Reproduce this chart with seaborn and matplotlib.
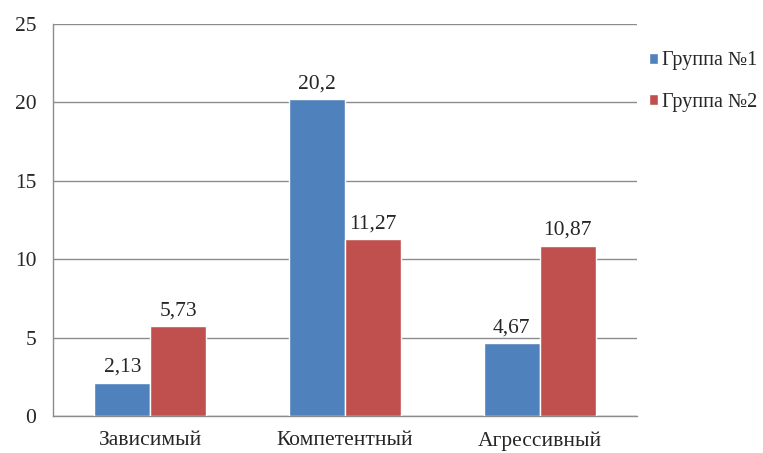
import matplotlib.pyplot as plt
import seaborn as sns
import pandas as pd
from matplotlib.ticker import FixedLocator

categories = ["Зависимый", "Компетентный", "Агрессивный"]
groups = ["Группа №1", "Группа №2"]
group1 = [2.13, 20.2, 4.67]
group2 = [5.73, 11.27, 10.87]
yticks = [0, 5, 10, 15, 20, 25]

df = pd.DataFrame({
    "category": categories * 2,
    "group": [groups[0]] * 3 + [groups[1]] * 3,
    "value": group1 + group2,
})

sns.set_style("white")
plt.rcParams["font.family"] = ["Liberation Serif", "DejaVu Serif"]

fig = plt.figure(figsize=(7.63, 4.53), dpi=100)
ax = fig.add_axes([0.0695, 0.0817, 0.7655, 0.8653])

sns.barplot(
    data=df, x="category", y="value", hue="group",
    palette=["#4F81BD", "#C0504D"], width=0.575,
    saturation=1, ax=ax, zorder=3,
)

for cont in ax.containers:
    labels = [f"{b.get_height():g}".replace(".", ",") for b in cont]
    ax.bar_label(cont, labels=labels, padding=4, fontsize=15.5)

ax.set_ylim(0, 25)
ax.set_xlim(-0.5, 2.5)
ax.set_yticks(yticks)
ax.yaxis.grid(True, color="#8c8c8c", linewidth=1, zorder=0)
ax.set_axisbelow(True)
ax.tick_params(axis="y", labelsize=15.5, length=6, color="#8c8c8c", direction="out", pad=6)
ax.tick_params(axis="x", which="major", length=0, labelsize=15.5, pad=11)
ax.xaxis.set_minor_locator(FixedLocator([-0.5, 0.5, 1.5, 2.5]))
ax.tick_params(axis="x", which="minor", length=6, color="#8c8c8c", direction="out")
ax.set_xlabel("")
ax.set_ylabel("")

for side in ["top", "right"]:
    ax.spines[side].set_visible(False)
for side in ["left", "bottom"]:
    ax.spines[side].set_color("#8c8c8c")
    ax.spines[side].set_linewidth(1)

ax.legend(
    loc="upper left", bbox_to_anchor=(1.02, 0.93), frameon=False,
    fontsize=14.5, handlelength=0.45, handleheight=0.45, handletextpad=0.2,
    labelspacing=1.1, borderpad=0, borderaxespad=0,
)

fig.savefig("out.png", dpi=100)
